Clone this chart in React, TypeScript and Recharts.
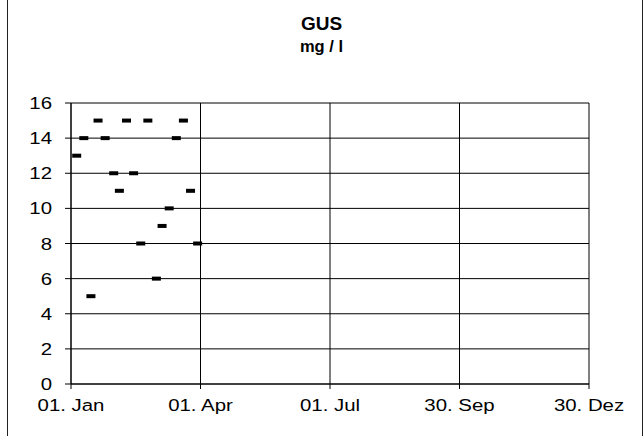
import React from 'react';
import { ScatterChart, Scatter, XAxis, YAxis, CartesianGrid } from 'recharts';

// day of year (leap year, 0 = 01. Jan) and measured GUS values in mg/l
const days = [4, 9, 14, 19, 24, 30, 34, 39, 44, 49, 54, 60, 64, 69, 74, 79, 84, 89];
const values = [13, 14, 5, 15, 14, 12, 11, 15, 12, 8, 15, 6, 9, 10, 14, 15, 11, 8];

const xTicks = [0, 91, 182, 273, 364];
const xTickLabels = ['01. Jan', '01. Apr', '01. Jul', '30. Sep', '30. Dez'];
const yTicks = [0, 2, 4, 6, 8, 10, 12, 14, 16];

const data = days.map((d, i) => ({ day: d, value: values[i] }));

const FONT = 'Arial, "Liberation Sans", sans-serif';

const Dash = (props: any) => {
  const { cx, cy } = props;
  return <rect x={cx - 4.5} y={cy - 2} width={9} height={4} fill="#000" />;
};

const XTick = (props: any) => {
  const { x, y, payload } = props;
  const i = xTicks.indexOf(payload.value);
  return (
    <g transform={`translate(${x},${y + 20})`}>
      <text transform="scale(1.2,1)" textAnchor="middle" fontSize={17} fontFamily={FONT} fill="#000">
        {xTickLabels[i]}
      </text>
    </g>
  );
};

const YTick = (props: any) => {
  const { x, y, payload } = props;
  return (
    <g transform={`translate(${x - 11},${y + 6})`}>
      <text transform="scale(1.2,1)" textAnchor="end" fontSize={17} fontFamily={FONT} fill="#000">
        {payload.value}
      </text>
    </g>
  );
};

export default function App() {
  return (
    <div style={{ position: 'absolute', left: 0, top: 0, width: 643, height: 436, background: '#fff', overflow: 'hidden' }}>
      <div
        style={{
          position: 'absolute',
          left: 7,
          top: -2,
          width: 634,
          height: 440,
          borderLeft: '1px solid #222',
          borderRight: '1px solid #222',
        }}
      />
      <div style={{ position: 'absolute', left: 0, top: 12, width: 643, textAlign: 'center', fontFamily: FONT, fontWeight: 'bold' }}>
        <div style={{ fontSize: 19, lineHeight: '23px' }}>GUS</div>
        <div style={{ fontSize: 16.5, lineHeight: '22px' }}>mg / l</div>
      </div>
      <div style={{ position: 'absolute', left: 0, top: 0 }}>
        <ScatterChart width={643} height={436} margin={{ top: 103, right: 54, bottom: 22, left: 11 }}>
          <CartesianGrid stroke="#000" strokeWidth={1} horizontal={true} vertical={true} />
          <XAxis
            type="number"
            dataKey="day"
            domain={[0, 364]}
            ticks={xTicks}
            interval={0}
            height={30}
            stroke="#000"
            tickSize={5}
            tick={<XTick />}
          />
          <YAxis
            type="number"
            dataKey="value"
            domain={[0, 16]}
            ticks={yTicks}
            interval={0}
            width={60}
            stroke="#000"
            tickSize={6}
            tick={<YTick />}
          />
          <Scatter data={data} fill="#000" shape={<Dash />} isAnimationActive={false} />
        </ScatterChart>
      </div>
    </div>
  );
}
